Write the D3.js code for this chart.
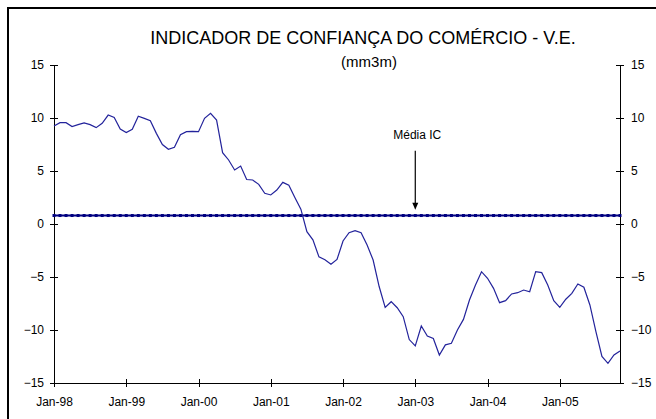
<!DOCTYPE html>
<html lang="en">
	<head>
		<meta charset="utf-8">
		<title>Indicador de Confiança do Comércio</title>
		<script type="text/javascript" src="https://cdn.jsdelivr.net/npm/d3@7"></script>
		<style type="text/css">
			body { margin: 0; background: #fff; }
			svg { display: block; font-family: "Liberation Sans", Arial, sans-serif; }
			.axis path, .axis line { stroke: #000; shape-rendering: crispEdges; }
			.axis text { font-size: 12px; fill: #000; font-family: "Liberation Sans", Arial, sans-serif; }
			.line { fill: none; stroke: #23239b; stroke-width: 1.2; }
			.media { stroke: #000080; stroke-width: 2; }
		</style>
	</head>
	<body>
		<script type="text/javascript">

			//Data (monthly, Jan-98 .. Nov-05)
			var tickLabels = ["Jan-98", "Jan-99", "Jan-00", "Jan-01", "Jan-02", "Jan-03", "Jan-04", "Jan-05"];
			var tickIndex = [0, 12, 24, 36, 48, 60, 72, 84];
			var icValues = [
				9.25, 9.56, 9.56, 9.2, 9.37, 9.53, 9.37, 9.09, 9.5, 10.28, 10.06, 8.96,
				8.62, 8.93, 10.16, 9.97, 9.75, 8.55, 7.5, 7.05, 7.23, 8.43, 8.71, 8.74,
				8.71, 9.97, 10.44, 9.8, 6.73, 6.04, 5.1, 5.47, 4.2, 4.15, 3.74, 2.9,
				2.74, 3.2, 3.93, 3.65, 2.5, 1.4, -0.72, -1.5, -3.1, -3.37, -3.8, -3.35,
				-1.6, -0.82, -0.63, -0.82, -1.98, -3.4, -5.9, -7.86, -7.33, -7.9, -8.74, -10.9,
				-11.5, -9.62, -10.57, -10.8, -12.36, -11.4, -11.26, -10, -9, -7.17, -5.75, -4.5,
				-5.12, -6.07, -7.42, -7.23, -6.6, -6.48, -6.23, -6.39, -4.5, -4.59, -5.75, -7.23,
				-7.86, -7.1, -6.54, -5.66, -5.97, -7.64, -10.16, -12.5, -13.14, -12.36, -11.98
			];
			var mediaIC = 0.8;
			var yTicks = [-15, -10, -5, 0, 5, 10, 15];

			var w = 656, h = 419;

			var svg = d3.select("body")
						.append("svg")
						.attr("width", w)
						.attr("height", h);

			//Outer frame
			svg.append("rect")
				.attr("x", 8)
				.attr("y", 8)
				.attr("width", 680)
				.attr("height", 440)
				.attr("fill", "none")
				.attr("stroke", "#000")
				.attr("stroke-width", 2);

			//Scales
			var xScale = d3.scaleLinear()
						.domain([0, icValues.length - 1])
						.range([54, 620]);

			var yScale = d3.scaleLinear()
						.domain([-15, 15])
						.range([383, 65]);

			//Axes
			var xAxis = d3.axisBottom(xScale)
						.tickValues(tickIndex)
						.tickFormat(function(d, i) { return tickLabels[i]; })
						.tickSizeInner(4)
						.tickSizeOuter(0);

			var yAxisL = d3.axisLeft(yScale).tickValues(yTicks).tickSizeInner(4).tickSizeOuter(0);
			var yAxisR = d3.axisRight(yScale).tickValues(yTicks).tickSizeInner(4).tickSizeOuter(0);

			var gx = svg.append("g")
				.attr("class", "axis")
				.attr("transform", "translate(0," + yScale(-15) + ")")
				.call(xAxis);
			gx.selectAll(".tick line").attr("y1", -4).attr("y2", 4);
			gx.selectAll(".tick text").attr("y", 14);

			var gl = svg.append("g")
				.attr("class", "axis")
				.attr("transform", "translate(" + xScale(0) + ",0)")
				.call(yAxisL);
			gl.selectAll(".tick line").attr("x1", -4).attr("x2", 4);
			gl.selectAll(".tick text").attr("x", -10);

			var gr = svg.append("g")
				.attr("class", "axis")
				.attr("transform", "translate(" + xScale(icValues.length - 1) + ",0)")
				.call(yAxisR);
			gr.selectAll(".tick line").attr("x1", -4).attr("x2", 4);
			gr.selectAll(".tick text").attr("x", 11);

			//Média IC line with markers
			svg.append("line")
				.attr("class", "media")
				.attr("x1", xScale(0))
				.attr("x2", xScale(icValues.length - 1))
				.attr("y1", yScale(mediaIC))
				.attr("y2", yScale(mediaIC));

			svg.selectAll("rect.dot")
				.data(icValues)
				.enter()
				.append("rect")
				.attr("class", "dot")
				.attr("x", function(d, i) { return xScale(i) - 1.5; })
				.attr("y", yScale(mediaIC) - 1.5)
				.attr("width", 3)
				.attr("height", 3)
				.attr("fill", "#000080");

			//IC series
			var line = d3.line()
						.x(function(d, i) { return xScale(i); })
						.y(function(d) { return yScale(d); });

			svg.append("path")
				.datum(icValues)
				.attr("class", "line")
				.attr("d", line);

			//Annotation arrow
			var ax = xScale(60);
			svg.append("line")
				.attr("x1", ax).attr("x2", ax)
				.attr("y1", yScale(6.9)).attr("y2", yScale(1.9))
				.attr("stroke", "#000")
				.attr("stroke-width", 1.2);
			svg.append("path")
				.attr("d", "M" + (ax - 3) + "," + (yScale(1.9) - 1) + "L" + (ax + 3) + "," + (yScale(1.9) - 1) + "L" + ax + "," + (yScale(1.9) + 6) + "Z")
				.attr("fill", "#000");

			svg.append("text")
				.attr("x", ax + 2)
				.attr("y", 139)
				.attr("text-anchor", "middle")
				.style("font-size", "12px")
				.text("Média IC");

			//Titles
			svg.append("text")
				.attr("x", 363)
				.attr("y", 44)
				.attr("text-anchor", "middle")
				.style("font-size", "18px")
				.text("INDICADOR DE CONFIANÇA DO COMÉRCIO - V.E.");

			svg.append("text")
				.attr("x", 369)
				.attr("y", 67)
				.attr("text-anchor", "middle")
				.style("font-size", "15px")
				.text("(mm3m)");

		</script>
	</body>
</html>
